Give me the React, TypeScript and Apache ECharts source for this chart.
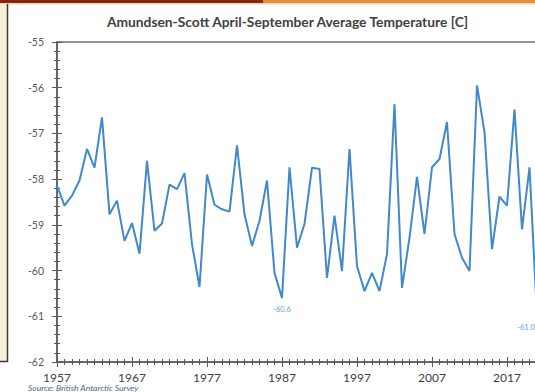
import React, { useEffect, useRef } from "react";
import * as echarts from "echarts";

const TITLE = "Amundsen-Scott April-September Average Temperature [C]";
const SOURCE = "Source: British Antarctic Survey";

const FIRST_YEAR = 1957;
const LAST_AXIS_YEAR = 2023;
const years: string[] = Array.from(
  { length: LAST_AXIS_YEAR - FIRST_YEAR + 1 },
  (_, i) => String(FIRST_YEAR + i)
);

// Apr-Sep average temperature, 1957..2021
const temps: number[] = [
  -58.14, -58.58, -58.36, -58.03, -57.34, -57.75, -56.65, -58.77, -58.47, -59.35,
  -58.96, -59.63, -57.6, -59.13, -58.97, -58.12, -58.22, -57.87, -59.42, -60.36,
  -57.9, -58.56, -58.66, -58.71, -57.26, -58.77, -59.46, -58.91, -58.03, -60.05,
  -60.6, -57.74, -59.5, -58.98, -57.75, -57.78, -60.16, -58.8, -60.01, -57.34,
  -59.9, -60.45, -60.05, -60.45, -59.64, -56.36, -60.38, -59.28, -57.95, -59.2,
  -57.74, -57.56, -56.75, -59.2, -59.72, -60.01, -55.95, -56.97, -59.53, -58.38,
  -58.58, -56.48, -59.1, -57.74, -61.0,
];

const labelledYears: string[] = ["1987", "2021"];

const Y_MIN = -62;
const Y_MAX = -55;

const AXIS_COLOR = "#595959";
const LINE_COLOR = "#4089cc";

export default function App() {
  const ref = useRef<HTMLDivElement>(null);

  useEffect(() => {
    if (!ref.current) return;
    const chart = echarts.init(ref.current, undefined, { renderer: "svg" });

    const seriesData = temps.map((v, i) => {
      if (!labelledYears.includes(years[i])) return v;
      const isLast = i === temps.length - 1;
      return {
        value: v,
        label: isLast ? { show: true, offset: [-11, 0] } : { show: true },
      };
    });

    const baseX = {
      type: "category" as const,
      data: years,
      boundaryGap: false,
      position: "bottom" as const,
      offset: 0,
      axisLine: { show: false, onZero: false },
      axisLabel: { show: false },
      splitLine: { show: false },
    };

    const baseY = {
      type: "value" as const,
      min: Y_MIN,
      max: Y_MAX,
      interval: 1,
      position: "left" as const,
      offset: 0,
      axisLine: { show: false, onZero: false },
      axisLabel: { show: false },
      splitLine: { show: false },
    };

    chart.setOption({
      animation: false,
      backgroundColor: "#ffffff",
      grid: {
        left: 57,
        top: 42,
        bottom: 30,
        right: 48,
        show: true,
        borderColor: "#707070",
        borderWidth: 1.5,
        backgroundColor: "transparent",
      },
      xAxis: [
        {
          ...baseX,
          axisLine: { show: true, onZero: false, lineStyle: { color: AXIS_COLOR, width: 1.5 } },
          axisLabel: {
            show: true,
            interval: 9,
            margin: 9,
            color: "#404040",
            fontSize: 12,
            fontFamily: "Lato",
          },
          axisTick: { show: true, interval: 9, length: 5, lineStyle: { color: AXIS_COLOR, width: 1 } },
        },
        {
          ...baseX,
          axisTick: { show: true, interval: 0, length: 3, lineStyle: { color: AXIS_COLOR, width: 1 } },
        },
        {
          ...baseX,
          axisTick: { show: true, inside: true, interval: 9, length: 5, lineStyle: { color: AXIS_COLOR, width: 1 } },
        },
        {
          ...baseX,
          axisTick: { show: true, inside: true, interval: 0, length: 3, lineStyle: { color: AXIS_COLOR, width: 1 } },
        },
      ],
      yAxis: [
        {
          ...baseY,
          axisLine: { show: true, onZero: false, lineStyle: { color: AXIS_COLOR, width: 1.5 } },
          axisLabel: {
            show: true,
            margin: 13,
            color: "#595959",
            fontSize: 10.5,
            fontFamily: "Lato",
          },
          axisTick: { show: true, length: 5, lineStyle: { color: AXIS_COLOR, width: 1 } },
          minorTick: { show: true, splitNumber: 5, length: 3, lineStyle: { color: AXIS_COLOR, width: 1 } },
        },
        {
          ...baseY,
          axisTick: { show: true, inside: true, length: 5, lineStyle: { color: AXIS_COLOR, width: 1 } },
          minorTick: { show: true, splitNumber: 5, length: 3, lineStyle: { color: AXIS_COLOR, width: 1 } },
        },
      ],
      series: [
        {
          type: "line",
          xAxisIndex: 0,
          yAxisIndex: 0,
          data: seriesData,
          showSymbol: true,
          symbol: "circle",
          symbolSize: 0,
          itemStyle: { color: LINE_COLOR },
          lineStyle: { color: LINE_COLOR, width: 2 },
          label: {
            show: false,
            position: "bottom",
            distance: 7,
            formatter: (p: any) => Number(p.value).toFixed(1),
            color: "#5b9bd5",
            fontSize: 7.5,
            fontFamily: "Lato",
          },
          emphasis: { disabled: true },
          z: 5,
        },
      ],
      graphic: [
        { type: "rect", shape: { x: 0, y: 0, width: 263, height: 3 }, style: { fill: "#8a2412" }, silent: true },
        { type: "rect", shape: { x: 263, y: 0, width: 340, height: 3 }, style: { fill: "#ea8a3c" }, silent: true },
        { type: "rect", shape: { x: 0, y: 3, width: 600, height: 1.5 }, style: { fill: "#f8d2a0" }, silent: true },
        { type: "rect", shape: { x: 0, y: 4, width: 7, height: 358 }, style: { fill: "#f6efd6" }, silent: true },
        { type: "line", shape: { x1: 7.5, y1: 4, x2: 7.5, y2: 362 }, style: { stroke: "#3a3a3a", lineWidth: 1.5 }, silent: true },
        { type: "line", shape: { x1: 0, y1: 361.5, x2: 8, y2: 361.5 }, style: { stroke: "#3a3a3a", lineWidth: 1.5 }, silent: true },
        {
          type: "text",
          x: 287.5,
          y: 21.5,
          style: {
            text: TITLE,
            fill: "#404040",
            font: "bold 13.8px Lato",
            textAlign: "center",
            textVerticalAlign: "middle",
          },
          silent: true,
        },
        {
          type: "text",
          x: 28,
          y: 388,
          style: {
            text: SOURCE,
            fill: "#4f6482",
            font: "italic 8.5px Lato",
            textAlign: "left",
            textVerticalAlign: "middle",
          },
          silent: true,
        },
      ],
    });

    return () => chart.dispose();
  }, []);

  return (
    <div
      style={{
        position: "fixed",
        left: 0,
        top: 0,
        width: 535,
        height: 392,
        overflow: "hidden",
        background: "#ffffff",
      }}
    >
      <div ref={ref} style={{ width: 600, height: 392 }} />
    </div>
  );
}
